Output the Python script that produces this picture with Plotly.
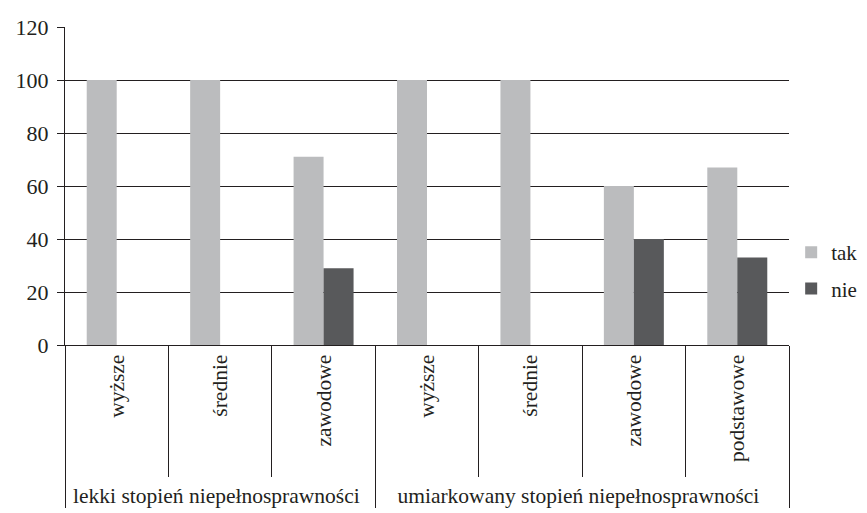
import plotly.graph_objects as go

groups = ["lekki stopień niepełnosprawności"] * 3 + ["umiarkowany stopień niepełnosprawności"] * 4
levels = ["wyższe", "średnie", "zawodowe", "wyższe", "średnie", "zawodowe", "podstawowe"]
tak = [100, 100, 71, 100, 100, 60, 67]
nie = [0, 0, 29, 0, 0, 40, 33]
y_ticks = [0, 20, 40, 60, 80, 100, 120]

FONT = "Liberation Serif, Times New Roman, serif"
INK = "#231F20"

fig = go.Figure()
fig.add_trace(go.Bar(x=[groups, levels], y=tak, name="tak", marker=dict(color="#BBBCBE", line=dict(width=0)), legendgroup="a"))
fig.add_trace(go.Bar(x=[groups, levels], y=nie, name="nie", marker=dict(color="#58595B", line=dict(width=0)), legendgroup="b"))

fig.update_layout(
    width=867, height=513,
    margin=dict(l=57, r=86, t=19, b=176, autoexpand=False),
    paper_bgcolor="white", plot_bgcolor="white",
    barmode="group", bargap=0.42, bargroupgap=0,
    font=dict(family=FONT, size=22, color=INK),
    showlegend=True,
    legend=dict(x=1.003, y=0.355, xanchor="left", yanchor="top", tracegroupgap=6,
                borderwidth=0, itemwidth=30,
                font=dict(size=21, family=FONT, color=INK), bgcolor="rgba(0,0,0,0)"),
    xaxis=dict(type="multicategory", showline=True, linecolor=INK, linewidth=1, automargin=False,
               tickangle=-90, ticks="outside", tickson="boundaries", ticklen=131, tickcolor=INK,
               showdividers=True, dividercolor=INK, dividerwidth=1, showgrid=False,
               tickfont=dict(size=21.5, family=FONT, color=INK)),
    yaxis=dict(range=[0, 120], tickvals=y_ticks, showline=True, linecolor=INK, linewidth=1, automargin=False,
               ticks="outside", ticklen=7, tickcolor=INK, showgrid=True, gridcolor=INK, gridwidth=1,
               zeroline=False, ticklabelstandoff=4,
               tickfont=dict(size=22, family=FONT, color=INK)),
)

fig.write_html("out.html")
